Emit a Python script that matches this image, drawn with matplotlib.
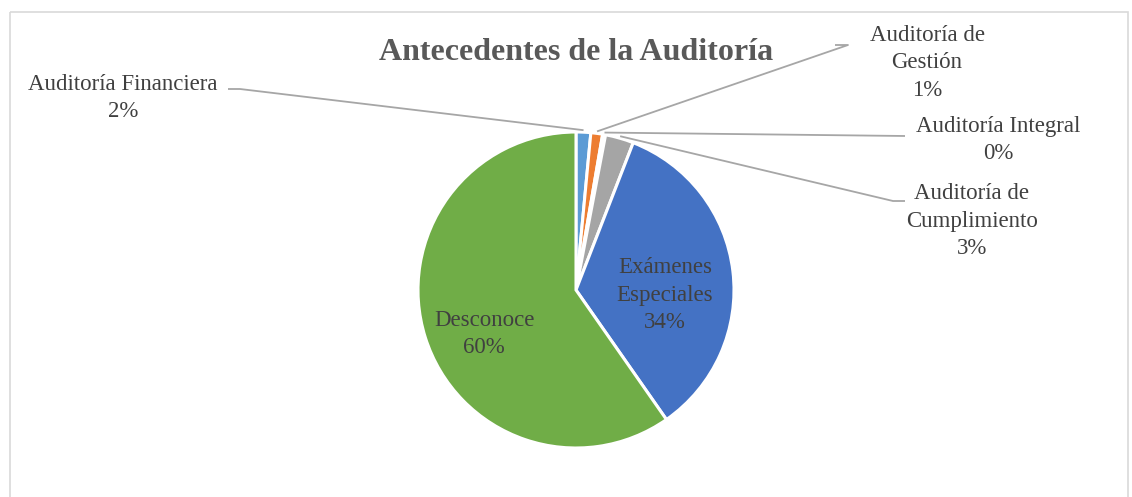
import numpy as np
import matplotlib.pyplot as plt
from matplotlib.patches import Rectangle

labels = ['Auditoría Financiera', 'Auditoría de\nGestión', 'Auditoría Integral',
          'Auditoría de\nCumplimiento', 'Exámenes\nEspeciales', 'Desconoce']
values = [1.5, 1.2, 0.3, 2.9, 34.4, 59.7]
colors = ['#5B9BD5', '#ED7D31', '#FFC000', '#A5A5A5', '#4472C4', '#70AD47']

W, H = 1132, 497
plt.rcParams['font.family'] = ['Liberation Serif', 'DejaVu Serif']

fig = plt.figure(figsize=(W / 100, H / 100), dpi=100)
ax = fig.add_axes([0, 0, 1, 1])

cx, cy, r = 576, 290, 158
total = sum(values)
# y axis is inverted, so counterclock=True draws clockwise on screen
wedges, _ = ax.pie(values, colors=colors, startangle=-90, counterclock=True,
                   center=(cx, cy), radius=r, frame=True,
                   wedgeprops=dict(edgecolor='white', linewidth=2.2))
ax.set_xlim(0, W)
ax.set_ylim(H, 0)
ax.axis('off')

# chart border
ax.add_patch(Rectangle((10, 12), W - 14, H, fill=False, edgecolor='#D9D9D9', lw=1.2))

pct = [f"{round(v / total * 100)}%" for v in values]

# angles (screen, clockwise from 12 o'clock)
start = 0.0
mids = []
for v in values:
    ext = v / total * 360
    mids.append(start + ext / 2)
    start += ext


def edge_point(ang, rr):
    a = np.radians(ang)
    return cx + rr * np.sin(a), cy - rr * np.cos(a)


tcol = '#404040'
fs = 16.5
ls = 1.38
# outside labels: (text x, text y center, elbow x, elbow y, end x)
outside = {
    0: (123, 98, 240, 89, 228),
    1: (927, 63, 848, 45, 835),
    2: (998, 140, 905, 136, 905),
    3: (972, 221, 893, 201, 905),
}
for i, (tx, ty, ex, ey, hx) in outside.items():
    px, py = edge_point(mids[i], r + 2)
    ax.plot([px, ex, hx], [py, ey, ey], color='#A6A6A6', lw=1.3, solid_capstyle='butt')
    ax.text(tx, ty, labels[i] + '\n' + pct[i], ha='center', va='center',
            fontsize=fs, color=tcol, linespacing=ls)

ax.text(665, 295, labels[4] + '\n' + pct[4], ha='center', va='center',
        fontsize=fs, color=tcol, linespacing=ls)
ax.text(484, 334, labels[5] + '\n' + pct[5], ha='center', va='center',
        fontsize=fs, color=tcol, linespacing=ls)

ax.text(576, 52, 'Antecedentes de la Auditoría', ha='center', va='center',
        fontsize=23, fontweight='bold', color='#595959')

fig.savefig('out.png', dpi=100)
